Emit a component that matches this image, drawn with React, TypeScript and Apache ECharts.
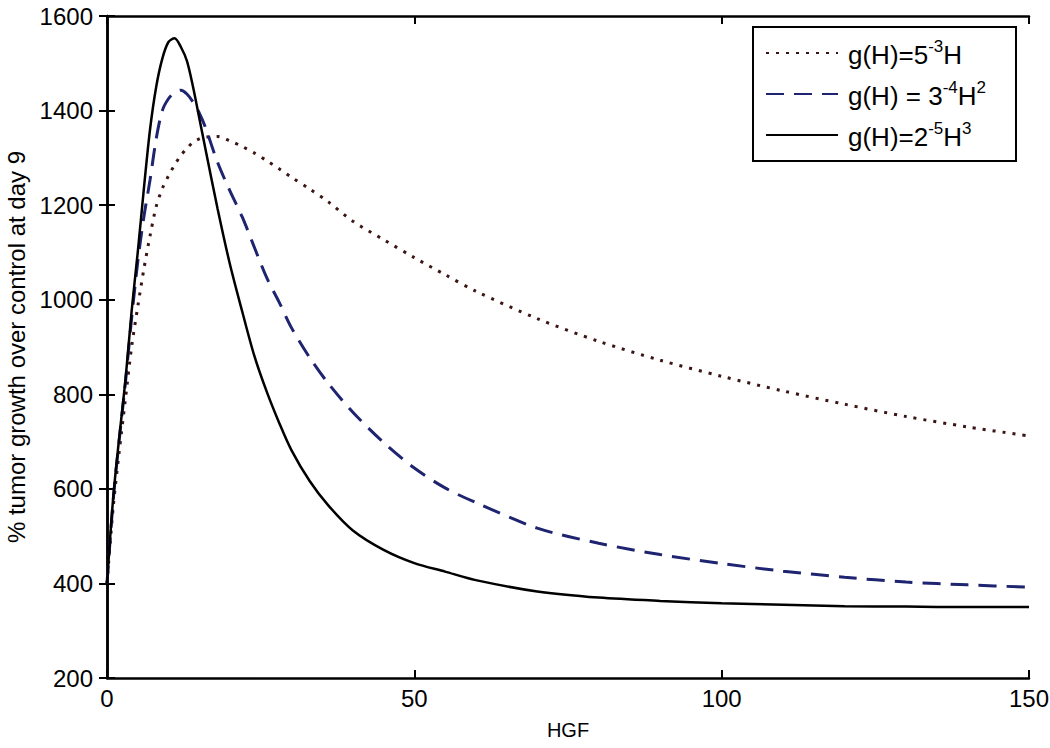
import React, { useEffect, useRef } from "react";
import * as echarts from "echarts";

// HGF values (x)
const hgf = [0, 1, 2, 3, 4, 5, 6, 7, 8, 9, 10, 11, 12, 13, 14, 15, 16, 18, 20, 22, 24, 26, 28, 30, 33, 36, 40, 45, 50, 55, 60, 70, 80, 90, 100, 110, 120, 130, 140, 150];

// g(H)=5^-3 H  (dotted)
const growthLinear = [400, 560, 680, 790, 900, 985, 1065, 1135, 1197, 1235, 1262, 1285, 1305, 1320, 1333, 1340, 1344, 1345, 1336, 1324, 1310, 1294, 1277, 1259, 1234, 1207, 1166, 1127, 1089, 1053, 1018, 960, 912, 872, 838, 807, 779, 753, 731, 712];

// g(H)=3^-4 H^2 (dashed)
const growthQuadratic = [400, 575, 705, 825, 960, 1080, 1175, 1253, 1340, 1400, 1425, 1438, 1443, 1435, 1418, 1395, 1365, 1290, 1230, 1175, 1110, 1046, 995, 941, 877, 823, 762, 698, 644, 602, 571, 517, 485, 461, 442, 426, 413, 403, 397, 392];

// g(H)=2^-5 H^3 (solid)
const growthCubic = [400, 580, 710, 830, 975, 1100, 1235, 1360, 1450, 1510, 1545, 1553, 1535, 1505, 1450, 1385, 1320, 1192, 1075, 975, 880, 805, 740, 682, 616, 565, 512, 471, 443, 425, 407, 383, 370, 363, 358, 355, 352, 351, 350, 350];

const seriesNames = ["g(H)=5^-3 H", "g(H) = 3^-4 H^2", "g(H)=2^-5 H^3"];
const legendRich = [
  "{b|g(H)=5}{s|-3}{b|H}",
  "{b|g(H) = 3}{s|-4}{b|H}{s|2}",
  "{b|g(H)=2}{s|-5}{b|H}{s|3}",
];

const xTicks = { min: 0, max: 150, interval: 50 };
const yTicks = { min: 200, max: 1600, interval: 200 };
const xTitle = "HGF";
const yTitle = "% tumor growth over control at day 9";

const FONT = "'Liberation Sans', Arial, Helvetica, sans-serif";

const pairs = (ys: number[]) => hgf.map((x, i) => [x, ys[i]]);

export default function App() {
  const ref = useRef<HTMLDivElement>(null);
  useEffect(() => {
    if (!ref.current) return;
    const chart = echarts.init(ref.current, undefined, { renderer: "svg" });
    const axisLine = { show: true, lineStyle: { color: "#000", width: 2.5 } };
    const tick = { show: true, inside: true, length: 8, lineStyle: { color: "#000", width: 2 } };
    chart.setOption({
      animation: false,
      backgroundColor: "#fff",
      grid: { left: 107, top: 16, right: 21, bottom: 70, containLabel: false, outerBoundsMode: "none" },
      xAxis: [
        {
          type: "value",
          ...xTicks,
          name: xTitle,
          nameLocation: "middle",
          nameGap: 42,
          nameTextStyle: { fontFamily: FONT, fontSize: 20, color: "#000", lineHeight: 20 },
          axisLine,
          axisTick: tick,
          splitLine: { show: false },
          axisLabel: { fontFamily: FONT, fontSize: 24, color: "#000", margin: 8, formatter: (v: number) => String(v) },
        },
        {
          type: "value",
          position: "top",
          ...xTicks,
          axisLine,
          axisTick: tick,
          splitLine: { show: false },
          axisLabel: { show: false },
        },
      ],
      yAxis: [
        {
          type: "value",
          ...yTicks,
          name: yTitle,
          nameLocation: "middle",
          nameGap: 74,
          nameTextStyle: { fontFamily: FONT, fontSize: 24, color: "#000" },
          axisLine,
          axisTick: tick,
          splitLine: { show: false },
          axisLabel: { fontFamily: FONT, fontSize: 24, color: "#000", margin: 14, formatter: (v: number) => String(v) },
        },
        {
          type: "value",
          position: "right",
          ...yTicks,
          axisLine,
          axisTick: tick,
          splitLine: { show: false },
          axisLabel: { show: false },
        },
      ],
      legend: {
        left: 753,
        top: 27,
        orient: "vertical",
        itemWidth: 72,
        itemHeight: 14,
        itemGap: 11,
        padding: [11, 30, 11, 12],
        borderColor: "#000",
        borderWidth: 2,
        backgroundColor: "#fff",
        itemStyle: { opacity: 0 },
        data: seriesNames,
        formatter: (name: string) => legendRich[seriesNames.indexOf(name)],
        textStyle: {
          padding: [0, 0, 0, 5],
          rich: {
            b: { fontFamily: FONT, fontSize: 26, color: "#000", lineHeight: 30, verticalAlign: "bottom" },
            s: { fontFamily: FONT, fontSize: 17, color: "#000", lineHeight: 17, verticalAlign: "top" },
          },
        },
      },
      series: [
        {
          name: seriesNames[0],
          type: "line",
          data: pairs(growthLinear),
          showSymbol: false,
          symbol: "none",
          smooth: 0.3,
          lineStyle: { color: "#3b1414", width: 3, type: [3, 7] },
          itemStyle: { color: "#3b1414" },
          z: 3,
        },
        {
          name: seriesNames[1],
          type: "line",
          data: pairs(growthQuadratic),
          showSymbol: false,
          symbol: "none",
          smooth: 0.3,
          lineStyle: { color: "#1e2470", width: 3, type: [18, 10] },
          itemStyle: { color: "#1e2470" },
          z: 4,
        },
        {
          name: seriesNames[2],
          type: "line",
          data: pairs(growthCubic),
          showSymbol: false,
          symbol: "none",
          smooth: 0.3,
          lineStyle: { color: "#000", width: 2.5, type: "solid" },
          itemStyle: { color: "#000" },
          z: 5,
        },
      ],
    });
    return () => chart.dispose();
  }, []);
  return (
    <div
      ref={ref}
      style={{ position: "fixed", left: 0, top: 0, width: 1050, height: 748, background: "#fff" }}
    />
  );
}
